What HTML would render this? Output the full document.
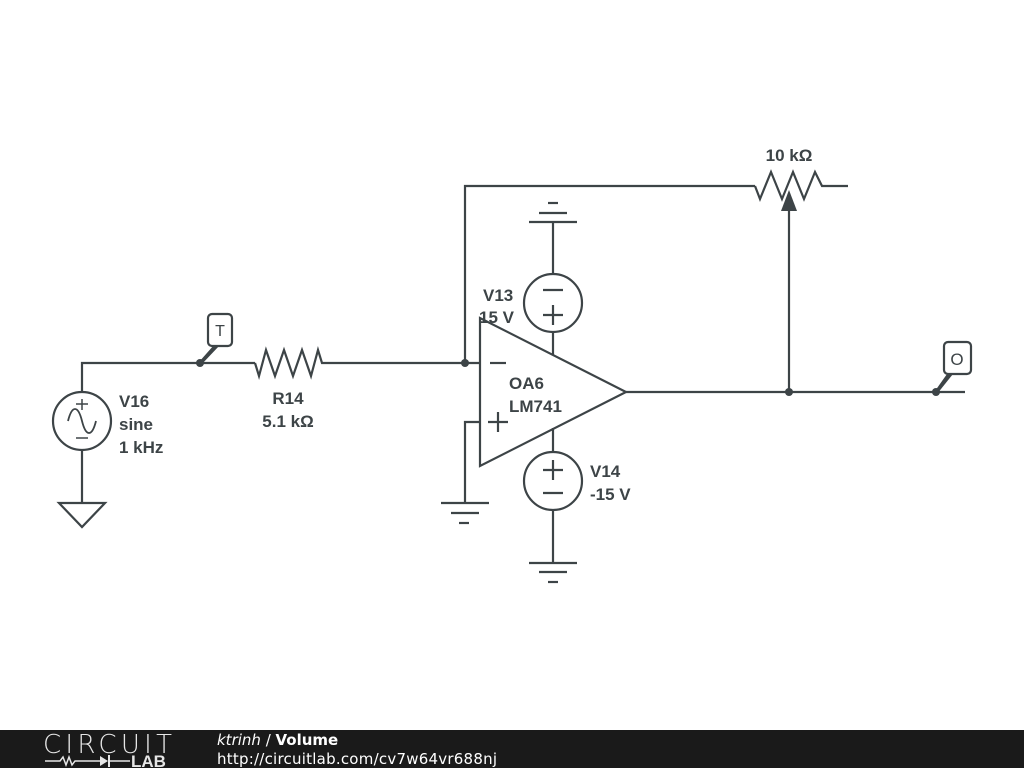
<!DOCTYPE html>
<html><head><style>
body{margin:0;width:1024px;height:768px;background:#fff;overflow:hidden;}
text{font-family:"Liberation Sans",Arial,sans-serif;}
</style></head><body>
<svg width="1024" height="768" viewBox="0 0 1024 768" xmlns="http://www.w3.org/2000/svg">
<g stroke="#3d4447" stroke-width="2.2" fill="none" stroke-linejoin="miter">
<polyline points="82,392 82,363 255,363"/>
<polyline points="255,363 259,376 266,350 275,376 284,350 293,376 302,350 311,376 318,350 322,363 480,363"/>
<line x1="82" y1="450" x2="82" y2="503"/>
<polygon points="59,503 105,503 82,527"/>
<circle cx="82" cy="421" r="29"/>
<line x1="82" y1="399" x2="82" y2="410" stroke-width="1.5"/>
<line x1="76" y1="404" x2="88" y2="404" stroke-width="1.5"/>
<line x1="76" y1="438" x2="88" y2="438" stroke-width="1.5"/>
<path d="M68,421 C72,405 78,405 82,421 C86,437 92,437 96,421" stroke-width="1.8"/>
<polyline points="465,363 465,186 755,186"/>
<polyline points="755,186 760,199 771,172 782,199 793,172 804,199 815,172 822,186 848,186"/>
<line x1="789" y1="392" x2="789" y2="205"/>
<polygon points="480,318 480,466 626,392"/>
<line x1="490" y1="363" x2="506" y2="363"/>
<line x1="488" y1="422" x2="508" y2="422"/>
<line x1="498" y1="412" x2="498" y2="432"/>
<polyline points="480,422 465,422 465,503"/>
<line x1="441" y1="503" x2="489" y2="503"/>
<line x1="451" y1="513" x2="479" y2="513"/>
<line x1="459" y1="523" x2="469" y2="523"/>
<line x1="553" y1="222" x2="553" y2="274"/>
<line x1="529" y1="222" x2="577" y2="222"/>
<line x1="539" y1="213" x2="567" y2="213"/>
<line x1="548" y1="203" x2="558" y2="203"/>
<circle cx="553" cy="303" r="29"/>
<line x1="543" y1="290" x2="563" y2="290"/>
<line x1="543" y1="315" x2="563" y2="315"/>
<line x1="553" y1="305" x2="553" y2="325"/>
<line x1="553" y1="332" x2="553" y2="355"/>
<line x1="553" y1="428" x2="553" y2="452"/>
<circle cx="553" cy="481" r="29"/>
<line x1="543" y1="470" x2="563" y2="470"/>
<line x1="553" y1="460" x2="553" y2="480"/>
<line x1="543" y1="493" x2="563" y2="493"/>
<line x1="553" y1="510" x2="553" y2="563"/>
<line x1="529" y1="563" x2="577" y2="563"/>
<line x1="539" y1="572" x2="567" y2="572"/>
<line x1="548" y1="582" x2="558" y2="582"/>
<line x1="626" y1="392" x2="965" y2="392"/>
<rect x="208" y="314" width="24" height="32" rx="4"/>
<rect x="944" y="342" width="27" height="32" rx="4"/>
</g>
<g fill="#3d4447">
<polygon points="789,190 781,211 797,211"/>
<circle cx="200" cy="363" r="4"/>
<circle cx="465" cy="363" r="4"/>
<circle cx="789" cy="392" r="4"/>
<circle cx="936" cy="392" r="4"/>
<polygon points="199,362 214,345 220,345 201,365"/>
<polygon points="935,391 947,374 953,374 937,394"/>
</g>
<g fill="#3d4447" font-weight="bold" font-size="17">
<text x="220" y="336" text-anchor="middle" font-weight="normal" font-size="16">T</text>
<text x="957" y="365" text-anchor="middle" font-weight="normal" font-size="17">O</text>
<text x="119" y="407">V16</text>
<text x="119" y="430">sine</text>
<text x="119" y="453">1 kHz</text>
<text x="288" y="404" text-anchor="middle">R14</text>
<text x="288" y="427" text-anchor="middle">5.1 kΩ</text>
<text x="789" y="161" text-anchor="middle">10 kΩ</text>
<text x="483" y="301">V13</text>
<text x="479" y="323">15 V</text>
<text x="509" y="389">OA6</text>
<text x="509" y="412">LM741</text>
<text x="590" y="477">V14</text>
<text x="590" y="500">-15 V</text>
</g>
<rect x="0" y="730" width="1024" height="38" fill="#1a1a1a"/>
<text x="43" y="753" fill="#e6e6e6" font-size="26" style="font-family:'DejaVu Sans',sans-serif" font-weight="300" letter-spacing="1" textLength="130">CIRCUIT</text>
<polyline points="45,761 60,761 63,757 66,765 69,757 72,765 75,761 85,761 100,761" stroke="#e6e6e6" stroke-width="1.5" fill="none"/>
<polygon points="100,756 100,766 108,761" fill="#e6e6e6"/>
<line x1="109" y1="755" x2="109" y2="767" stroke="#e6e6e6" stroke-width="2"/>
<line x1="109" y1="761" x2="130" y2="761" stroke="#e6e6e6" stroke-width="1.5"/>
<text x="131" y="767" fill="#e6e6e6" font-size="17" font-weight="bold">LAB</text>
<text x="217" y="745" fill="#fff" font-size="15" style="font-family:'DejaVu Sans',sans-serif"><tspan font-style="italic">ktrinh</tspan> / <tspan font-weight="bold">Volume</tspan></text>
<text x="217" y="764" fill="#fff" font-size="15" style="font-family:'DejaVu Sans',sans-serif" textLength="280">http://circuitlab.com/cv7w64vr688nj</text>
</svg>
</body></html>
